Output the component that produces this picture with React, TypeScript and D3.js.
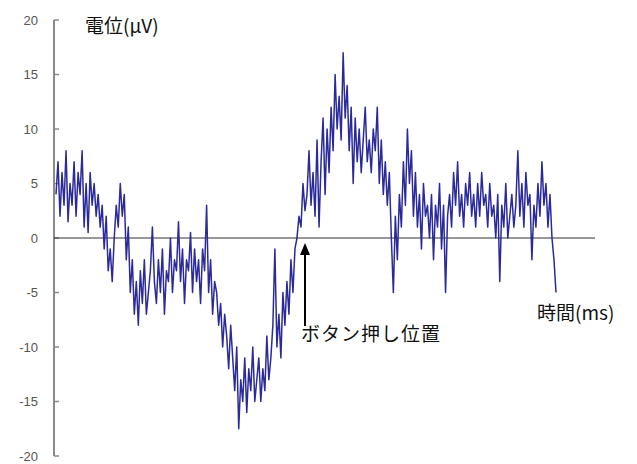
import React from "react";
import * as d3 from "d3";

const yTicks = [-20, -15, -10, -5, 0, 5, 10, 15, 20];
const yLabel = "電位(μV)";
const xLabel = "時間(ms)";
const markerLabel = "ボタン押し位置";
const markerIndex = 124;

const potential: number[] = [
  4, 7, 2, 6, 3, 8, 1.5, 5, 3, 7,
  2, 6, 4, 8, 1, 5, 0.5, 6, 3, 5,
  2, 4, 1, 3, -1, 2, -3, -1, -4, 0,
  3, 1, 5, 2, 4, -2, 1, -5, -2, -7,
  -4, -8, -3, -6, -2, -7, -5, -3, 1, -4,
  -6, -2, -5, -1, -7, -3, -4, 0, -5, -2,
  -3, 1.5, -4, -1, -6, -2, -3, 0.5, -5, -1,
  -4, -2, -6, -1, -3, 3, -5, -2, -7, -4,
  -5, -8, -6, -10, -7, -9, -12, -8, -11, -14,
  -10, -17.5, -13, -15, -11, -16, -12, -14, -10, -15,
  -13, -11, -15, -12, -14, -9, -13, -11, -8, -1,
  -10, -7, -11, -5, -8, -4, -7, -2, -5, -1,
  0, 2, 1, 5, 2.5, 4, 8, 3, 6, 2,
  9, 1, 7, 11, 4, 10, 6, 12, 8, 15,
  10, 13, 9, 17, 11, 14, 8, 12, 5, 11,
  7, 10, 6, 9, 12, 7, 9, 6, 10, 8,
  12, 5, 9, 4, 7, 3, 6, 0, -5, 2,
  -2, 4, 1, 7, 3, 10, 5, 8, 2, 6,
  1, 4, -1, 5, 2, 3, 0, 4, -2, 3,
  1, 5, -1, 3, -5, 2, 4, 1, 6, 3,
  7, 2, 4, 1, 5, 3, 6, 2, 4, 1,
  5, 2, 6, 3, 4, 1, 5, 2, 3, 0,
  4, -4, 3, 1, 5, 0, 2, 4, 1, 3,
  8, 2, 5, 1, 6, 3, 4, -2, 3, 1,
  5, 2, 7, 3, 5, 1, 4, 0, -2, -5,
];

export default function App() {
  const W = 637;
  const H = 464;
  const axisX = 54;
  const x = d3.scaleLinear().domain([0, potential.length - 1]).range([56, 556]);
  const y = d3.scaleLinear().domain([-20, 20]).range([456, 20]);
  const line = d3
    .line<number>()
    .x((_, i) => x(i))
    .y((d) => y(d));
  const mx = x(markerIndex);
  const y0 = y(0);
  const jp = "Noto Sans CJK JP, sans-serif";
  return (
    <svg
      width={W}
      height={H}
      style={{ position: "absolute", left: 0, top: 0, background: "#fff" }}
    >
      <rect x={0} y={0} width={W} height={H} fill="#fff" />
      {/* y axis */}
      <line x1={axisX} x2={axisX} y1={y(20)} y2={y(-20)} stroke="#8a8a8a" strokeWidth={2} />
      {yTicks.map((t) => (
        <g key={t}>
          <line x1={axisX} x2={axisX + 5} y1={y(t)} y2={y(t)} stroke="#8a8a8a" strokeWidth={1.5} />
          <text
            x={38}
            y={y(t)}
            dy="0.35em"
            textAnchor="end"
            fontFamily="Liberation Sans, Arial, sans-serif"
            fontSize={13}
            fill="#555"
          >
            {t}
          </text>
        </g>
      ))}
      {/* zero line */}
      <line x1={axisX} x2={595} y1={y0} y2={y0} stroke="#333" strokeWidth={1.2} />
      {/* signal */}
      <path d={line(potential) || ""} fill="none" stroke="#2a2a9c" strokeWidth={1.5} strokeLinejoin="round" />
      {/* labels */}
      <text x={85} y={33} fontFamily={jp} fontSize={19} fill="#111">
        {yLabel}
      </text>
      <text x={537} y={320} fontFamily={jp} fontSize={19} fill="#111">
        {xLabel}
      </text>
      <text x={301} y={341} fontFamily={jp} fontSize={19} fill="#111" textLength={139} lengthAdjust="spacing">
        {markerLabel}
      </text>
      {/* arrow */}
      <line x1={mx} x2={mx} y1={326} y2={254} stroke="#000" strokeWidth={2} />
      <path d={`M${mx},${y0 + 5} L${mx - 5},${y0 + 17} L${mx + 5},${y0 + 17} Z`} fill="#000" />
    </svg>
  );
}
